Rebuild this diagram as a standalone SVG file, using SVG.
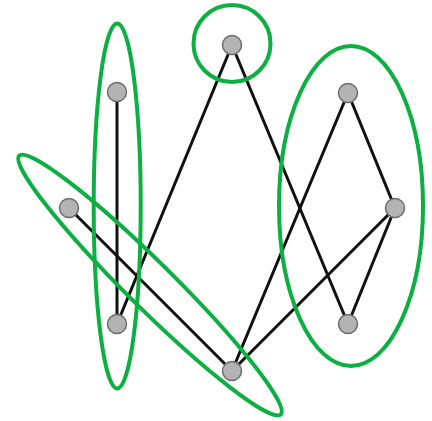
<svg xmlns="http://www.w3.org/2000/svg" width="432" height="421" viewBox="0 0 432 421">
<style>
.grp{fill:none;stroke:#0cb040;stroke-width:4}
.edge{stroke:#111;stroke-width:3;fill:none}
.node{fill:#b3b3b3;stroke:#6e6e6e;stroke-width:1.5}
</style>
<rect width="432" height="421" fill="#fff"/>
<g id="connectors">
<line class="edge" x1="117" y1="92" x2="117" y2="324"/>
<line class="edge" x1="232" y1="45" x2="117" y2="324"/>
<line class="edge" x1="232" y1="45" x2="348" y2="324"/>
<line class="edge" x1="69" y1="208" x2="232" y2="371"/>
<line class="edge" x1="348" y1="93" x2="232" y2="371"/>
<line class="edge" x1="348" y1="93" x2="395" y2="208"/>
<line class="edge" x1="395" y1="208" x2="348" y2="324"/>
<line class="edge" x1="395" y1="208" x2="232" y2="371"/>
</g>
<g id="groups">
<circle class="grp" cx="232" cy="43.5" r="38.5"/>
<ellipse class="grp" cx="117.2" cy="206" rx="23.5" ry="182.5"/>
<ellipse class="grp" cx="351" cy="206" rx="72" ry="160"/>
<ellipse class="grp" cx="150" cy="285" rx="184" ry="23" transform="rotate(44.7 150 285)"/>
</g>
<g id="A"><circle class="node" cx="232" cy="45" r="9.5"/></g>
<g id="B"><circle class="node" cx="117" cy="92" r="9.5"/></g>
<g id="C"><circle class="node" cx="348" cy="93" r="9.5"/></g>
<g id="D"><circle class="node" cx="69" cy="208" r="9.5"/></g>
<g id="E"><circle class="node" cx="395" cy="208" r="9.5"/></g>
<g id="F"><circle class="node" cx="117" cy="324" r="9.5"/></g>
<g id="G"><circle class="node" cx="348" cy="324" r="9.5"/></g>
<g id="H"><circle class="node" cx="232" cy="371" r="9.5"/></g>
</svg>
